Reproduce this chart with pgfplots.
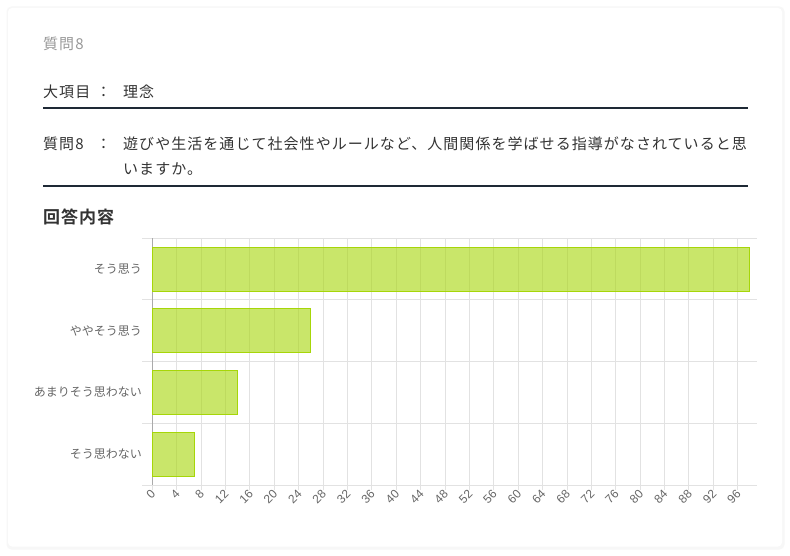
\documentclass[border=0pt]{standalone}
\usepackage{fontspec}
\usepackage{pgfplots}
\pgfplotsset{compat=1.18}
\setmainfont{Noto Sans CJK JP}
\newfontfamily\jp[LetterSpace=7]{Noto Sans CJK JP}
\newfontfamily\jpb[LetterSpace=6]{Noto Sans CJK JP Bold}
\newfontfamily\lab{Liberation Sans}

\definecolor{txt}{HTML}{333333}
\definecolor{ttl}{HTML}{999999}
\definecolor{rule}{HTML}{1E2935}
\definecolor{barc}{RGB}{166,214,8}
\definecolor{gridc}{RGB}{226,226,226}
\definecolor{axc}{RGB}{170,170,170}
\definecolor{tickc}{HTML}{666666}

\begin{document}
\begin{tikzpicture}[x=1pt,y=1pt]
  % page and card (reference y measured from the top: y' = 555 - y)
  \fill[white] (0,0) rectangle (790,555);
  \fill[black!7,rounded corners=4pt] (7.5,6.5) rectangle (783.5,547.5);
  \fill[black!3,rounded corners=5pt] (6.5,5.5) rectangle (784.5,548.5);
  \fill[white,rounded corners=4pt] (8,8.5) rectangle (782,547);

  % header
  \node[anchor=west,inner sep=0,text=ttl] at (43,511.5) {\jp\fontsize{15}{15}\selectfont 質問8};
  \node[anchor=west,inner sep=0,text=txt] at (43,463) {\jp\fontsize{15}{15}\selectfont 大項目};
  \node[inner sep=0,text=txt] at (103.5,463) {\jp\fontsize{15}{15}\selectfont ：};
  \node[anchor=west,inner sep=0,text=txt] at (123,463) {\jp\fontsize{15}{15}\selectfont 理念};
  \draw[rule,line width=1.1pt] (43,447) -- (748,447);

  \node[anchor=west,inner sep=0,text=txt] at (43,411) {\jp\fontsize{15}{15}\selectfont 質問8};
  \node[inner sep=0,text=txt] at (103.5,411) {\jp\fontsize{15}{15}\selectfont ：};
  \node[anchor=west,inner sep=0,text=txt] at (123,411) {\jp\fontsize{15}{15}\selectfont 遊びや生活を通じて社会性やルールなど、人間関係を学ばせる指導がなされていると思};
  \node[anchor=west,inner sep=0,text=txt] at (123,386) {\jp\fontsize{15}{15}\selectfont いますか。};
  \draw[rule,line width=1.1pt] (43,369) -- (748,369);

  \node[anchor=west,inner sep=0,text=txt] at (43,338) {\jpb\fontsize{17}{17}\selectfont 回答内容};

  \begin{axis}[
    at={(152.3pt,70pt)}, anchor=south west,
    scale only axis,
    width=605pt, height=246.7pt,
    xbar, bar width=44pt,
    xmin=0, xmax=99.2,
    ymin=-0.5, ymax=3.5,
    y dir=reverse,
    axis x line*=bottom,
    axis y line*=left,
    x axis line style={draw=gridc,line width=1pt},
    y axis line style={draw=axc,line width=1pt},
    xtick={0,4,...,96},
    ytick={0,1,2,3},
    yticklabels={そう思う,ややそう思う,あまりそう思わない,そう思わない},
    minor ytick={-0.5,0.5,1.5,2.5,3.5},
    xmajorgrids=true,
    yminorgrids=true,
    grid style={draw=gridc,line width=1pt},
    minor grid style={draw=gridc,line width=1pt},
    tick align=outside,
    major tick length=5pt,
    minor tick length=10pt,
    every major x tick/.append style={draw=gridc,line width=1pt},
    every major y tick/.append style={draw=none},
    every minor y tick/.append style={draw=gridc,line width=1pt},
    /pgf/number format/assume math mode=true,
    xticklabel style={font=\lab\fontsize{12}{12}\selectfont,text=tickc,rotate=45,anchor=east,inner sep=0.5pt,yshift=-2pt},
    yticklabel style={font=\fontsize{12}{12}\selectfont,text=tickc,anchor=east,xshift=-2pt},
    clip=false,
  ]
    \addplot[fill=barc,fill opacity=0.6,draw=barc,line width=1pt]
      coordinates {(98,0) (26,1) (14,2) (7,3)};
  \end{axis}
\end{tikzpicture}
\end{document}
